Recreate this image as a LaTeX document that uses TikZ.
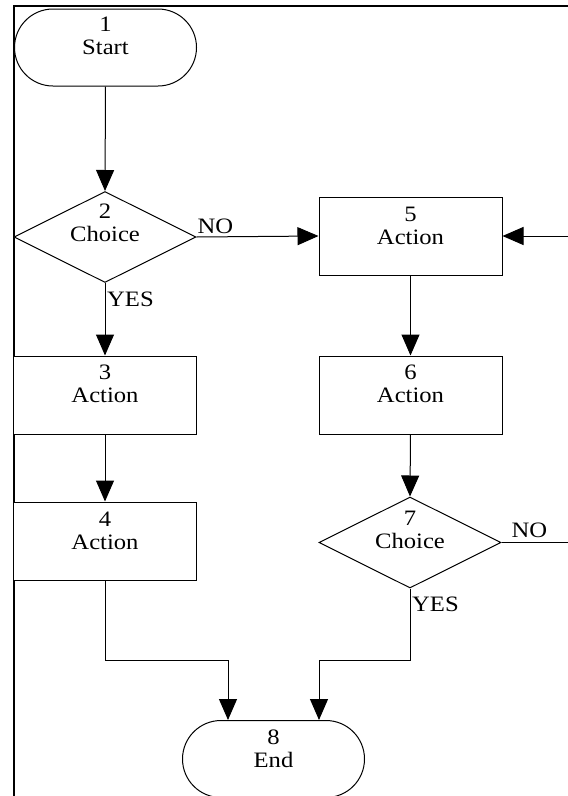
\documentclass[tikz,border=0pt]{standalone}
\usepackage{fontspec}
\setmainfont{Liberation Serif}[FakeStretch=1.12]
\usetikzlibrary{shapes.geometric,shapes.misc,arrows.meta,calc}
\begin{document}
\begin{tikzpicture}[x=1pt,y=-1pt,
  shp/.style={draw=black, line width=1pt, inner sep=0pt, fill=white},
  boxs/.style={shp, rectangle, minimum width=183pt, minimum height=78pt},
  dia/.style={shp, diamond, minimum width=182pt, minimum height=91pt},
  term/.style={shp, rounded rectangle, minimum width=182pt, minimum height=77pt},
  txt/.style={align=center, inner sep=0pt, anchor=north, font=\fontsize{22}{23}\selectfont},
  lab/.style={inner sep=0pt, font=\fontsize{22}{23}\selectfont},
  arr/.style={draw=black, line width=1pt, -{Triangle[length=21pt,width=18pt]}},
  ln/.style={draw=black, line width=1pt}]
\useasboundingbox (0,0) rectangle (568,796);
\clip (0,0) rectangle (568,796);
\fill[white] (0,0) rectangle (568,796);
% frame
\draw[line width=2.2pt] (568,6) -- (14,6) -- (14,800);
% shapes
\node[term] (s) at (105.5,47.5) {};
\node[dia] (d2) at (105,237) {};
\node[boxs] (b5) at (410.5,236) {};
\node[boxs] (b3) at (105,395) {};
\node[boxs] (b6) at (410.5,395) {};
\node[boxs] (b4) at (105,541) {};
\node[dia] (d7) at (410,542.5) {};
\node[term] (e) at (273.5,759) {};
% texts
\node[txt] (ts) at ([yshift=-8pt]s.north) {1\\Start};
\node[txt] (t2) at ([yshift=-13pt]d2.north) {2\\Choice};
\node[txt] (t5) at ([yshift=-10pt]b5.north) {5\\Action};
\node[txt] (t3) at ([yshift=-9pt]b3.north) {3\\Action};
\node[txt] (t6) at ([yshift=-9pt]b6.north) {6\\Action};
\node[txt] (t4) at ([yshift=-10pt]b4.north) {4\\Action};
\node[txt] (t7) at ([yshift=-14pt]d7.north) {7\\Choice};
\node[txt] (te) at ([yshift=-10pt]e.north) {8\\End};
% connectors
\draw[arr] (s.south) -- (d2.north);
\draw[arr] (d2.east) -- (b5.west);
\draw[arr] (d2.south) -- (b3.north);
\draw[arr] (b3.south) -- (b4.north);
\draw[arr] (b5.south) -- (b6.north);
\draw[arr] (b6.south) -- (d7.north);
\coordinate (loop) at (600,542.5);
\draw[arr] (d7.east) -- (loop) |- (b5.east);
\coordinate (jl) at (228,660);
\coordinate (jr) at (319,660);
\draw[arr] (b4.south) |- (jl) -- (jl |- e.north);
\draw[arr] (d7.south) |- (jr) -- (jr |- e.north);
% labels
\node[lab, anchor=base west] (no2) at ($(d2.east)+(1,-4)$) {NO};
\node[lab, anchor=base west] (yes2) at ($(d2.south)+(2,23)$) {YES};
\node[lab, anchor=base west] (no7) at ($(d7.east)+(10,-5)$) {NO};
\node[lab, anchor=base west] (yes7) at ($(d7.south)+(2,23)$) {YES};
\end{tikzpicture}
\end{document}
